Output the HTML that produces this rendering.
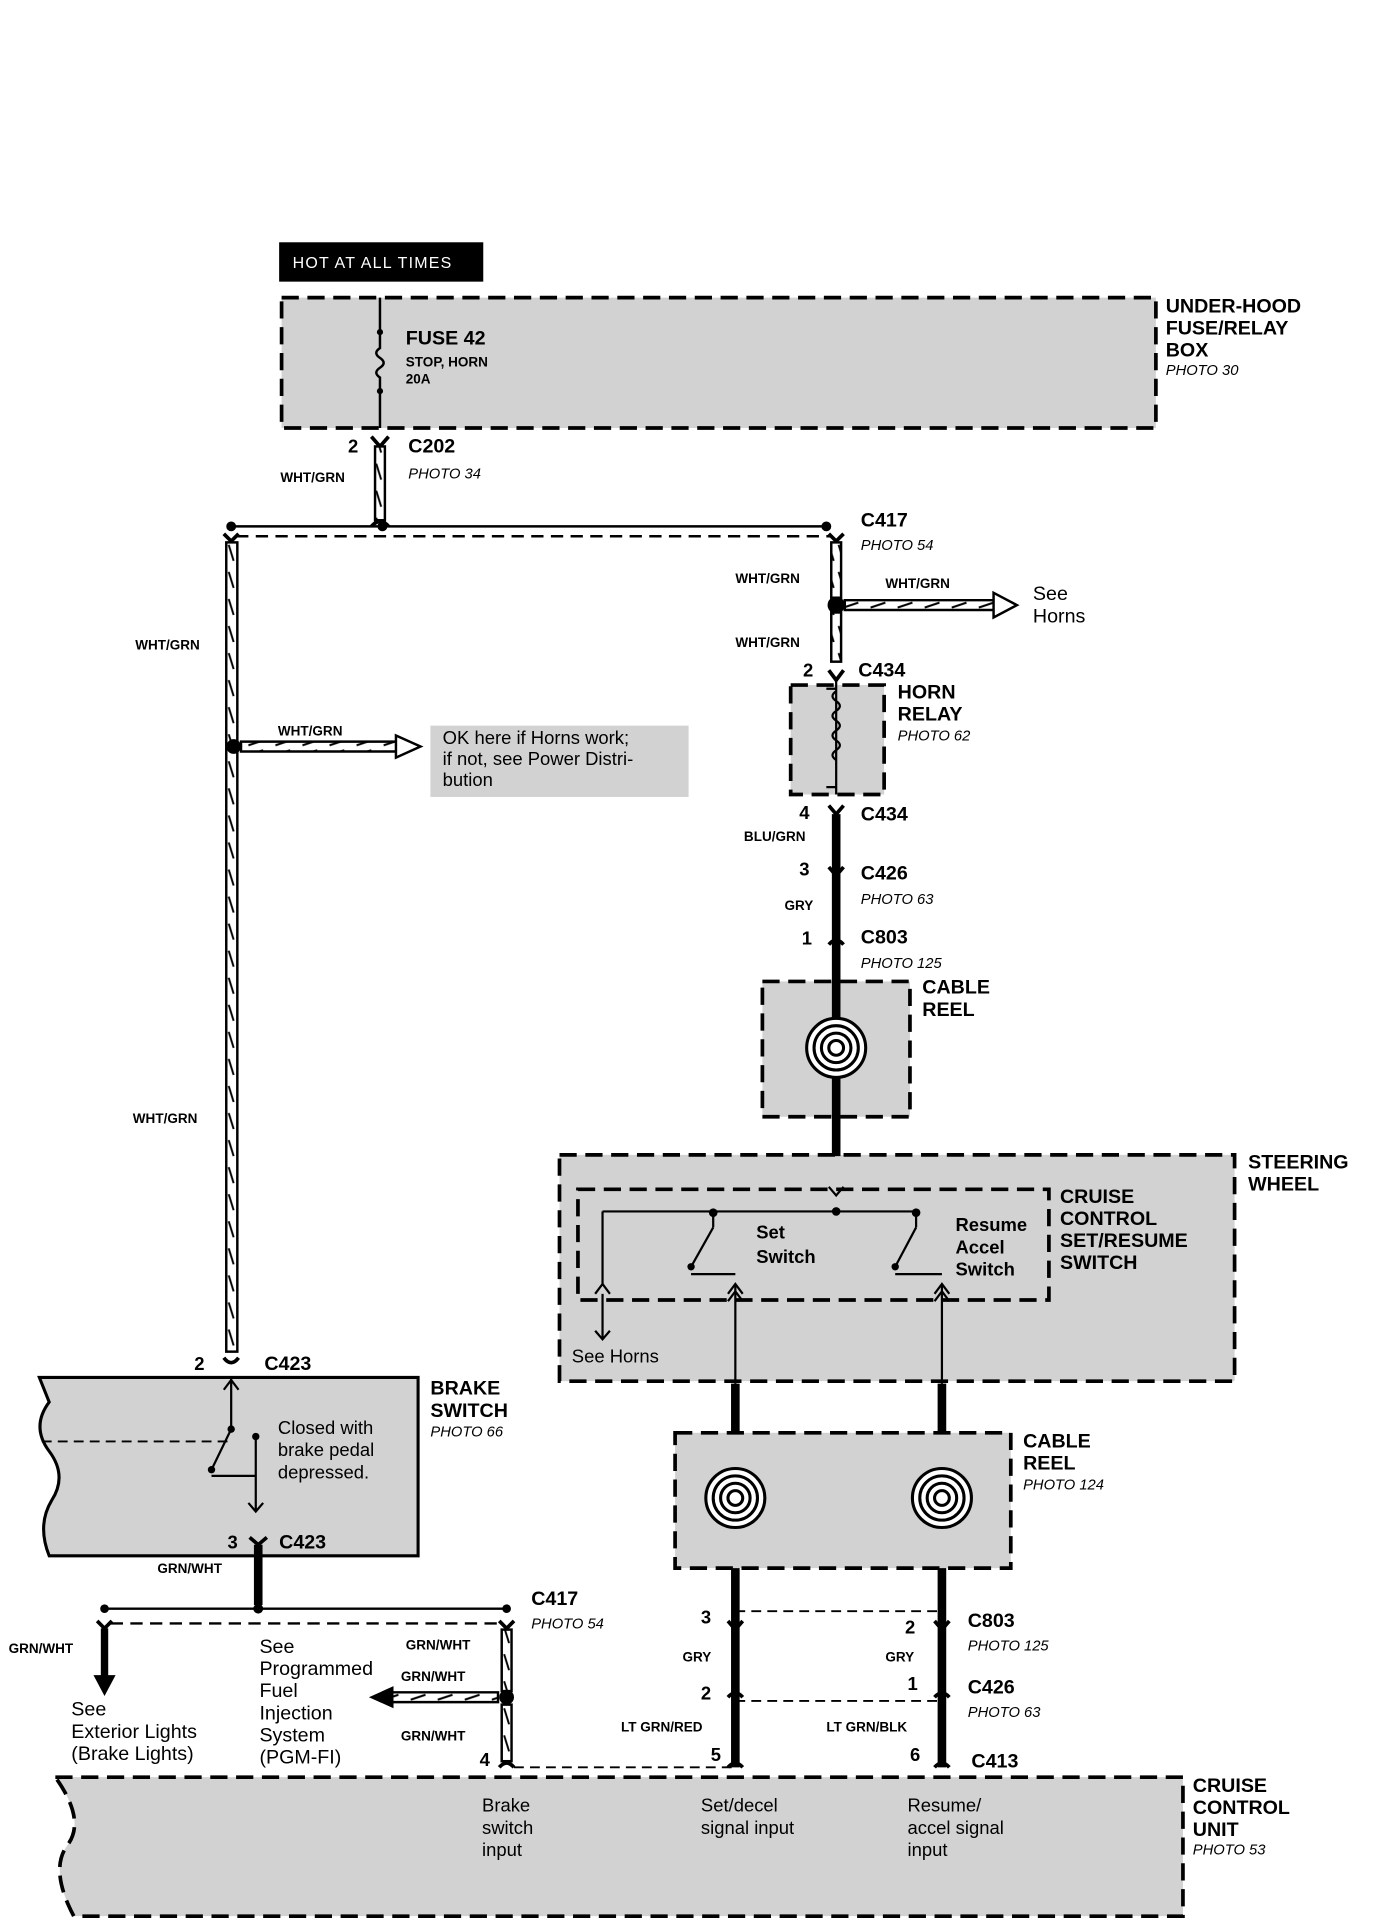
<!DOCTYPE html>
<html><head><meta charset="utf-8"><style>
html,body{margin:0;padding:0;background:#fff;}
svg{display:block}
text{font-family:"Liberation Sans",Arial,sans-serif;font-weight:bold;fill:#000}
.s{font-size:11px}
.m{font-size:15px}
.l{font-size:16px}
.i{font-style:italic;font-weight:normal;font-size:12px}
.n{font-weight:normal;font-size:15px}
</style></head><body>
<svg width="1376" height="1926" viewBox="0 0 1119 1566" preserveAspectRatio="none" xmlns="http://www.w3.org/2000/svg">
<defs>
<pattern id="hv" width="8" height="22" patternUnits="userSpaceOnUse"><rect width="8" height="22" fill="#fff"/><path d="M2 3 L6 16" stroke="#000" stroke-width="1.6"/></pattern>
<pattern id="hh" width="22" height="8" patternUnits="userSpaceOnUse"><rect width="22" height="8" fill="#fff"/><path d="M4 6 L16 2" stroke="#000" stroke-width="1.6"/></pattern>
</defs>
<g fill="#d2d2d2" stroke="#000" stroke-width="3" stroke-dasharray="14,7">
<rect x="229" y="242" width="711" height="106"/>
<rect x="643" y="557" width="76" height="89"/>
<rect x="620" y="798" width="120" height="110"/>
<rect x="455" y="939" width="549" height="184"/>
<rect x="470" y="967" width="383" height="90"/>
<rect x="549" y="1165" width="273" height="110"/>
<path d="M45 1445 H962 V1558 H60 Q40 1520 55 1500 Q70 1480 45 1445Z"/>
</g>
<path d="M32 1120 H340 V1265 H40 Q30 1240 42 1220 Q55 1200 40 1180 Q25 1160 40 1140 Z" fill="#d2d2d2" stroke="#000" stroke-width="2.5"/>
<path d="M34 1172 H190" stroke="#000" stroke-width="1.5" stroke-dasharray="8,5"/>
<rect x="227" y="197" width="166" height="32" fill="#000"/>
<text x="238" y="218" style="fill:#fff;font-weight:normal;font-size:13px;letter-spacing:1px">HOT AT ALL TIMES</text>
<path d="M309 242 V283 q-6 4 0 8 q6 4 0 8 q-6 4 0 8 V348" stroke="#000" stroke-width="2" fill="none"/>
<circle cx="309" cy="270" r="2.5"/><circle cx="309" cy="318" r="2.5"/>
<text x="330" y="280" class="l">FUSE 42</text><text x="330" y="298" class="s">STOP, HORN</text><text x="330" y="312" class="s">20A</text>
<text x="948" y="254" class="l">UNDER-HOOD</text><text x="948" y="272" class="l">FUSE/RELAY</text><text x="948" y="290" class="l">BOX</text><text x="948" y="305" class="i">PHOTO 30</text>
<path d="M302 355 l7 8 l7 -8" stroke="#000" stroke-width="3" fill="none"/>
<rect x="305" y="363" width="8" height="60" fill="url(#hv)" stroke="#000" stroke-width="2"/>
<path d="M302 428 q7 -8 14 0" stroke="#000" stroke-width="3" fill="none"/>
<text x="283" y="368" class="m">2</text><text x="332" y="368" class="l">C202</text><text x="228" y="392" class="s">WHT/GRN</text><text x="332" y="389" class="i">PHOTO 34</text>
<path d="M188 428 H672" stroke="#000" stroke-width="2"/>
<path d="M192 436 H676" stroke="#000" stroke-width="2" stroke-dasharray="10,6"/>
<circle cx="188" cy="428" r="4"/><circle cx="311" cy="428" r="4"/><circle cx="672" cy="428" r="4"/>
<path d="M182 434 l6 6 l6 -6 M674 434 l6 6 l6 -6" stroke="#000" stroke-width="3" fill="none"/>
<rect x="184" y="441" width="9" height="658" fill="url(#hv)" stroke="#000" stroke-width="2"/>
<text x="110" y="528" class="s">WHT/GRN</text><text x="108" y="913" class="s">WHT/GRN</text>
<circle cx="190" cy="607" r="6"/>
<path d="M196 603 H325 V611 H196Z" fill="url(#hh)" stroke="#000" stroke-width="2"/>
<path d="M322 598 L342 607 L322 616Z" fill="#fff" stroke="#000" stroke-width="2"/>
<text x="226" y="598" class="s">WHT/GRN</text>
<rect x="350" y="590" width="210" height="58" fill="#d2d2d2"/>
<text x="360" y="605" class="n">OK here if Horns work;</text><text x="360" y="622" class="n">if not, see Power Distri-</text><text x="360" y="639" class="n">bution</text>
<rect x="676" y="441" width="8" height="45" fill="url(#hv)" stroke="#000" stroke-width="2"/>
<circle cx="680" cy="492" r="7"/>
<rect x="676" y="498" width="8" height="40" fill="url(#hv)" stroke="#000" stroke-width="2"/>
<path d="M687 488 H810 V496 H687Z" fill="url(#hh)" stroke="#000" stroke-width="2"/>
<path d="M808 482 L827 492 L808 502Z" fill="#fff" stroke="#000" stroke-width="2"/>
<text x="700" y="428" class="l">C417</text><text x="700" y="447" class="i">PHOTO 54</text>
<text x="598" y="474" class="s">WHT/GRN</text><text x="720" y="478" class="s">WHT/GRN</text><text x="598" y="526" class="s">WHT/GRN</text>
<text x="840" y="488" class="n" style="font-size:16px">See</text><text x="840" y="506" class="n" style="font-size:16px">Horns</text>
<path d="M674 545 l6 8 l6 -8" stroke="#000" stroke-width="3" fill="none"/>
<text x="653" y="550" class="m">2</text><text x="698" y="550" class="l">C434</text>
<path d="M680 553 V646 M672 560 h8 M672 640 h8 M680 562 q-6 4 0 8 q6 4 0 8 q-6 4 0 8 q6 4 0 8 q-6 4 0 8 q6 4 0 8 q-6 4 0 8" stroke="#000" stroke-width="1.8" fill="none"/>
<text x="730" y="568" class="l">HORN</text><text x="730" y="586" class="l">RELAY</text><text x="730" y="602" class="i">PHOTO 62</text>
<path d="M674 655 l6 7 l6 -7 M674 705 l6 7 l6 -7 M674 768 q6 -7 12 0" stroke="#000" stroke-width="3" fill="none"/>
<path d="M680 662 V940" stroke="#000" stroke-width="7"/>
<text x="650" y="666" class="m">4</text><text x="700" y="667" class="l">C434</text><text x="605" y="684" class="s">BLU/GRN</text>
<text x="650" y="712" class="m">3</text><text x="700" y="715" class="l">C426</text><text x="700" y="735" class="i">PHOTO 63</text>
<text x="638" y="740" class="s">GRY</text>
<text x="652" y="768" class="m">1</text><text x="700" y="767" class="l">C803</text><text x="700" y="787" class="i">PHOTO 125</text>
<text x="750" y="808" class="l">CABLE</text><text x="750" y="826" class="l">REEL</text>
<g fill="none" stroke="#000" stroke-width="2.5">
<circle cx="680" cy="852" r="24" fill="#fff"/><circle cx="680" cy="852" r="18"/><circle cx="680" cy="852" r="12"/><circle cx="680" cy="852" r="6"/>
<circle cx="598" cy="1218" r="24" fill="#fff"/><circle cx="598" cy="1218" r="18"/><circle cx="598" cy="1218" r="12"/><circle cx="598" cy="1218" r="6"/>
<circle cx="766" cy="1218" r="24" fill="#fff"/><circle cx="766" cy="1218" r="18"/><circle cx="766" cy="1218" r="12"/><circle cx="766" cy="1218" r="6"/>
</g>
<text x="1015" y="950" class="l">STEERING</text><text x="1015" y="968" class="l">WHEEL</text>
<text x="862" y="978" class="l">CRUISE</text><text x="862" y="996" class="l">CONTROL</text><text x="862" y="1014" class="l">SET/RESUME</text><text x="862" y="1032" class="l">SWITCH</text>
<g stroke="#000" stroke-width="1.8" fill="none">
<path d="M674 965 l6 7 l6 -7"/>
<path d="M490 985 H745 M490 985 V1045 M580 985 V998 M745 985 V998 M580 998 L562 1030 M745 998 L728 1030 M598 1045 V1125 M766 1045 V1125 M562 1036 H598 M728 1036 H766"/>
<path d="M484 1052 l6 -8 l6 8 M592 1058 l6 -8 l6 8 M760 1058 l6 -8 l6 8 M490 1052 V1088 M484 1082 l6 7 l6 -7"/>
<path d="M592 1052 l6 -8 l6 8 M760 1052 l6 -8 l6 8"/>
</g>
<circle cx="680" cy="985" r="3.5"/><circle cx="580" cy="986" r="3.5"/><circle cx="745" cy="986" r="3.5"/><circle cx="562" cy="1030" r="3"/><circle cx="728" cy="1030" r="3"/>
<text x="615" y="1007" class="m">Set</text><text x="615" y="1027" class="m">Switch</text>
<text x="777" y="1001" class="m">Resume</text><text x="777" y="1019" class="m">Accel</text><text x="777" y="1037" class="m">Switch</text>
<text x="465" y="1108" class="n">See Horns</text>
<path d="M598 1125 V1165 M766 1125 V1165 M598 1275 V1437 M766 1275 V1437" stroke="#000" stroke-width="7"/>
<text x="832" y="1177" class="l">CABLE</text><text x="832" y="1195" class="l">REEL</text><text x="832" y="1211" class="i">PHOTO 124</text>
<path d="M598 1310 H766 M598 1383 H766" stroke="#000" stroke-width="1.5" stroke-dasharray="8,5"/>
<path d="M592 1318 l6 7 l6 -7 M760 1318 l6 7 l6 -7 M592 1380 q6 -7 12 0 M760 1380 q6 -7 12 0 M592 1437 q6 -7 12 0 M760 1437 q6 -7 12 0" stroke="#000" stroke-width="3" fill="none"/>
<text x="570" y="1320" class="m">3</text><text x="555" y="1351" class="s">GRY</text><text x="570" y="1382" class="m">2</text><text x="505" y="1408" class="s">LT GRN/RED</text><text x="578" y="1432" class="m">5</text>
<text x="736" y="1328" class="m">2</text><text x="720" y="1351" class="s">GRY</text><text x="738" y="1374" class="m">1</text><text x="672" y="1408" class="s">LT GRN/BLK</text><text x="740" y="1432" class="m">6</text>
<text x="787" y="1323" class="l">C803</text><text x="787" y="1342" class="i">PHOTO 125</text>
<text x="787" y="1377" class="l">C426</text><text x="787" y="1396" class="i">PHOTO 63</text>
<text x="790" y="1437" class="l">C413</text>
<text x="158" y="1114" class="m">2</text><text x="215" y="1114" class="l">C423</text>
<path d="M182 1104 q6 8 12 0" stroke="#000" stroke-width="3" fill="none"/>
<text x="350" y="1134" class="l">BRAKE</text><text x="350" y="1152" class="l">SWITCH</text><text x="350" y="1168" class="i">PHOTO 66</text>
<g stroke="#000" stroke-width="1.8" fill="none">
<path d="M188 1120 V1162 M182 1130 l6 -8 l6 8 M188 1162 L172 1195 M172 1200 H208 M208 1168 V1228 M202 1222 l6 7 l6 -7"/>
</g>
<circle cx="188" cy="1162" r="3"/><circle cx="172" cy="1195" r="3"/><circle cx="208" cy="1168" r="3"/>
<text x="226" y="1166" class="n">Closed with</text><text x="226" y="1184" class="n">brake pedal</text><text x="226" y="1202" class="n">depressed.</text>
<path d="M203 1250 l7 6 l7 -6" stroke="#000" stroke-width="3" fill="none"/>
<path d="M210 1256 V1305" stroke="#000" stroke-width="7"/>
<text x="185" y="1259" class="m">3</text><text x="227" y="1259" class="l">C423</text><text x="128" y="1279" class="s">GRN/WHT</text>
<path d="M85 1308 H412" stroke="#000" stroke-width="2"/>
<path d="M90 1320 H405" stroke="#000" stroke-width="2" stroke-dasharray="10,6"/>
<circle cx="85" cy="1308" r="3.5"/><circle cx="210" cy="1308" r="4"/><circle cx="412" cy="1308" r="3.5"/>
<path d="M79 1318 l6 6 l6 -6 M406 1318 l6 6 l6 -6" stroke="#000" stroke-width="3" fill="none"/>
<path d="M85 1324 V1365" stroke="#000" stroke-width="6"/><path d="M76 1362 L85 1379 L94 1362Z"/>
<text x="7" y="1344" class="s">GRN/WHT</text>
<text x="58" y="1395" class="n" style="font-size:16px">See</text><text x="58" y="1413" class="n" style="font-size:16px">Exterior Lights</text><text x="58" y="1431" class="n" style="font-size:16px">(Brake Lights)</text>
<rect x="408" y="1325" width="8" height="50" fill="url(#hv)" stroke="#000" stroke-width="2"/>
<circle cx="412" cy="1380" r="6"/>
<rect x="408" y="1386" width="8" height="46" fill="url(#hv)" stroke="#000" stroke-width="2"/>
<path d="M318 1376 H405 V1384 H318Z" fill="url(#hh)" stroke="#000" stroke-width="2"/>
<path d="M320 1371 L300 1380 L320 1389Z"/>
<path d="M406 1437 q6 -7 12 0" stroke="#000" stroke-width="3" fill="none"/>
<path d="M418 1437 H598" stroke="#000" stroke-width="1.5" stroke-dasharray="8,5"/>
<text x="330" y="1341" class="s">GRN/WHT</text><text x="326" y="1367" class="s">GRN/WHT</text><text x="326" y="1415" class="s">GRN/WHT</text>
<text x="432" y="1305" class="l">C417</text><text x="432" y="1324" class="i">PHOTO 54</text><text x="390" y="1436" class="m">4</text>
<text x="211" y="1344" class="n" style="font-size:16px">See</text><text x="211" y="1362" class="n" style="font-size:16px">Programmed</text><text x="211" y="1380" class="n" style="font-size:16px">Fuel</text><text x="211" y="1398" class="n" style="font-size:16px">Injection</text><text x="211" y="1416" class="n" style="font-size:16px">System</text><text x="211" y="1434" class="n" style="font-size:16px">(PGM-FI)</text>
<text x="970" y="1457" class="l">CRUISE</text><text x="970" y="1475" class="l">CONTROL</text><text x="970" y="1493" class="l">UNIT</text><text x="970" y="1508" class="i">PHOTO 53</text>
<text x="392" y="1473" class="n">Brake</text><text x="392" y="1491" class="n">switch</text><text x="392" y="1509" class="n">input</text>
<text x="570" y="1473" class="n">Set/decel</text><text x="570" y="1491" class="n">signal input</text>
<text x="738" y="1473" class="n">Resume/</text><text x="738" y="1491" class="n">accel signal</text><text x="738" y="1509" class="n">input</text>
</svg>
</body></html>
